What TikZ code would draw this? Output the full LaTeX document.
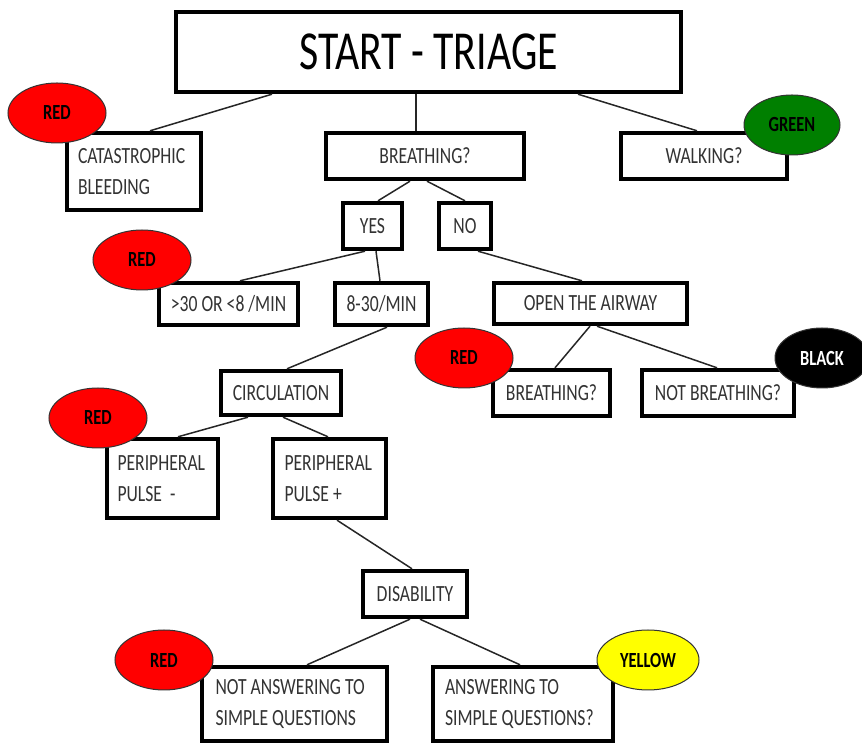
\documentclass[tikz,border=0pt]{standalone}
\usepackage{fontspec}
\setmainfont{Carlito}[FakeStretch=0.76]
\usetikzlibrary{shapes.geometric}
\definecolor{txtgray}{HTML}{333333}
\definecolor{tagred}{HTML}{FF0000}
\definecolor{taggreen}{HTML}{007F00}
\definecolor{tagyellow}{HTML}{FFFF00}
\tikzset{
	stepbox/.style = {rectangle, draw=black, line width=2.2pt, fill=white,
		inner sep=0pt, text=txtgray, font=\fontsize{11.6}{15.5}\selectfont},% boite simple
	twoline/.style = {stepbox, align=flush left, inner ysep=0pt},% boite sur deux lignes
	tag/.style = {ellipse, draw=black!80, line width=0.5pt, inner sep=0pt,
		minimum width=49pt, minimum height=30pt,
		font=\fontsize{10.8}{12}\selectfont\bfseries},% pastille couleur
	link/.style = {draw=black!85, line width=0.75pt}% trait
}
\begin{document}
\begin{tikzpicture}[x=0.5pt,y=-0.5pt]
\clip (0,0) rectangle (862,747);
% boites
\node [stepbox, text=black, minimum width=252.5pt, minimum height=40pt,
	font=\fontsize{27.5}{30}\selectfont] (title) at (428.5,52) {START - TRIAGE};
\node [twoline, minimum width=67pt, minimum height=38.5pt, text width=56pt,
	inner xsep=5.5pt] (cat) at (134,171.5) {CATASTROPHIC\\BLEEDING};
\node [stepbox, minimum width=99pt, minimum height=23pt] (breath) at (425,156) {BREATHING?};
\node [stepbox, minimum width=83pt, minimum height=23pt] (walk) at (704,156) {WALKING?};
\node [stepbox, minimum width=29.5pt, minimum height=23pt] (yes) at (372.5,226) {YES};
\node [stepbox, minimum width=26pt, minimum height=23pt] (no) at (465,226) {NO};
\node [stepbox, minimum width=69.5pt, minimum height=21pt] (fast) at (228.5,304) {>30 OR <8 /MIN};
\node [stepbox, minimum width=46.5pt, minimum height=21pt] (normal) at (381.5,304) {8-30/MIN};
\node [stepbox, minimum width=96.5pt, minimum height=20.5pt] (airway) at (590.5,303.5) {OPEN THE AIRWAY};
\node [stepbox, minimum width=60pt, minimum height=22pt] (circ) at (281,393) {CIRCULATION};
\node [stepbox, minimum width=58.5pt, minimum height=23pt] (breathb) at (551.5,393) {BREATHING?};
\node [stepbox, minimum width=76pt, minimum height=23pt] (notbreath) at (718,393) {NOT BREATHING?};
\node [twoline, minimum width=55.5pt, minimum height=39.5pt, text width=45pt,
	inner xsep=5.25pt] (ppneg) at (162.5,478.5) {PERIPHERAL\\PULSE\ \ -};
\node [twoline, minimum width=56.5pt, minimum height=39.5pt, text width=45pt,
	inner xsep=5.75pt] (pppos) at (329.5,478.5) {PERIPHERAL\\PULSE +};
\node [stepbox, minimum width=52pt, minimum height=23pt] (disab) at (415,594) {DISABILITY};
\node [twoline, minimum width=92.5pt, minimum height=37pt, text width=79pt,
	inner xsep=6.75pt] (noans) at (294.5,704) {NOT ANSWERING TO\\SIMPLE QUESTIONS};
\node [twoline, minimum width=90pt, minimum height=37pt, text width=78pt,
	inner xsep=6pt] (ans) at (523,704) {ANSWERING TO\\SIMPLE QUESTIONS?};
% traits
\draw [link] ([xshift=-78.25pt]title.south) -- ([xshift=8pt]cat.north);
\draw [link] ([xshift=-6.25pt]title.south) -- ([xshift=-4.5pt]breath.north);
\draw [link] ([xshift=74.75pt]title.south) -- ([xshift=-3.5pt]walk.north);
\draw [link] ([xshift=-7.5pt]breath.south) -- ([xshift=2.75pt]yes.north);
\draw [link] ([xshift=1pt]breath.south) -- (no.north);
\draw [link] ([xshift=-3.75pt]yes.south) -- ([xshift=5.75pt]fast.north);
\draw [link] ([xshift=1.75pt]yes.south) -- ([xshift=-0.75pt]normal.north);
\draw [link] ([xshift=6.5pt]no.south) -- ([xshift=-4.25pt]airway.north);
\draw [link] ([xshift=2.75pt]normal.south) -- ([xshift=3pt]circ.north);
\draw [link] ([xshift=-0.25pt]airway.south) -- ([xshift=1.75pt]breathb.north);
\draw [link] ([xshift=3.25pt]airway.south) -- ([xshift=-0.5pt]notbreath.north);
\draw [link] ([xshift=-16.5pt]circ.south) -- ([xshift=7.75pt]ppneg.north);
\draw [link] ([xshift=1pt]circ.south) -- ([xshift=-0.75pt]pppos.north);
\draw [link] ([xshift=3.75pt]pppos.south) -- ([xshift=-1.5pt]disab.north);
\draw [link] ([xshift=-2.5pt]disab.south) -- ([xshift=6.25pt]noans.north);
\draw [link] ([xshift=2.5pt]disab.south) -- ([xshift=-1.5pt]ans.north);
% pastilles
\node [tag, fill=tagred] (reda) at (57,113) {RED};
\node [tag, fill=taggreen, minimum width=48pt] (green) at (792,125) {GREEN};
\node [tag, fill=tagred] (redb) at (142,260) {RED};
\node [tag, fill=tagred] (redc) at (464,358) {RED};
\node [tag, fill=black, text=white, minimum width=47pt] (dead) at (822,358) {BLACK};
\node [tag, fill=tagred] (redd) at (98,418) {RED};
\node [tag, fill=tagred] (rede) at (164,660) {RED};
\node [tag, fill=tagyellow, minimum width=51pt] (yellow) at (648,660) {YELLOW};
\end{tikzpicture}
\end{document}
